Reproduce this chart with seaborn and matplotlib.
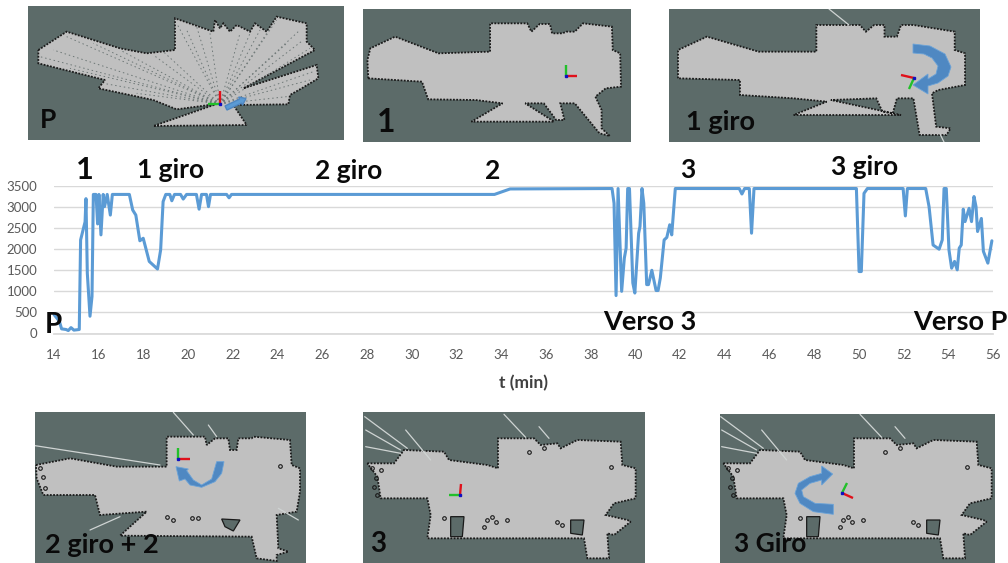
import matplotlib
matplotlib.use('Agg')
import matplotlib.pyplot as plt
from matplotlib.patches import Polygon, Rectangle, FancyArrow
import seaborn as sns

# time series
t_min = [14.0, 14.24, 14.34, 14.54, 14.64, 14.76, 14.89, 15.13, 15.19, 15.39, 15.43, 15.49, 15.61, 15.70,
         15.76, 15.88, 15.95, 16.01, 16.10, 16.20, 16.26, 16.38, 16.52, 16.61, 17.37, 17.52, 17.66, 17.84,
         17.99, 18.26, 18.63, 18.77, 18.88, 19.0, 19.18, 19.27, 19.39, 19.66, 19.78, 19.93, 20.37, 20.49,
         20.6, 20.82, 20.91, 21.0, 21.72, 21.83, 21.94, 33.7, 34.4, 38.96, 39.05, 39.14, 39.23, 39.39,
         39.51, 39.59, 39.66, 39.74, 39.89, 39.98, 40.15, 40.21, 40.30, 40.38, 40.51, 40.59, 40.74, 40.93,
         41.02, 41.12, 41.29, 41.41, 41.54, 41.63, 41.79, 44.65, 44.77, 44.89, 45.10, 45.20, 45.31, 49.89,
         50.01, 50.11, 50.23, 50.38, 51.98, 52.08, 52.17, 52.99, 53.14, 53.32, 53.59, 53.73, 53.81, 53.91,
         54.03, 54.15, 54.28, 54.40, 54.49, 54.58, 54.67, 54.75, 54.93, 55.04, 55.15, 55.24, 55.31, 55.48,
         55.57, 55.77, 55.95]
values = [450, 290, 110, 95, 70, 140, 80, 95, 2220, 2650, 3200, 1430, 410, 880,
          3300, 3300, 2600, 3300, 2340, 3300, 3010, 3300, 2810, 3300, 3300, 2930, 2810, 2200,
          2260, 1710, 1530, 1985, 3130, 3300, 3300, 3150, 3300, 3300, 3190, 3300, 3300, 2950,
          3300, 3300, 3010, 3300, 3300, 3220, 3300, 3300, 3430, 3440, 3090, 900, 3440, 1000,
          1790, 2025, 3440, 3440, 1200, 960, 2380, 2540, 3440, 3090, 1160, 1160, 1500, 1020,
          1020, 1320, 2220, 2280, 2580, 2340, 3440, 3440, 3310, 3440, 3440, 2380, 3440, 3440,
          1470, 1470, 3325, 3440, 3440, 2790, 3440, 3440, 3010, 2100, 2000, 2220, 3440, 3440,
          1985, 1550, 1710, 1510, 2025, 2100, 2950, 2655, 2970, 2655, 3250, 3010, 2420, 2730,
          1950, 1670, 2200]
x_ticks = list(range(14, 57, 2))
y_ticks = list(range(0, 3501, 500))

# text over the chart: label, x, y, size
chart_labels = [('1', 85, 170, 22), ('1 giro', 171, 170, 19), ('2 giro', 349, 171, 19), ('2', 493, 171, 19),
                ('3', 688, 170, 19), ('3 giro', 865, 167, 19), ('P', 53, 325, 20),
                ('Verso 3', 650, 322, 19.5), ('Verso P', 960, 322, 19.5)]

# map panels: frame (left, top, right, bottom) in picture pixels
frame_p = (28, 6, 344, 140)
frame_1 = (363, 9, 631, 142)
frame_1g = (669, 9, 980, 142)
frame_2g = (35, 412, 306, 563)
frame_3 = (363, 412, 645, 563)
frame_3g = (720, 414, 995, 563)

# outlines, measured on zoomed crops
map_p = [(55, 150), (140, 95), (300, 145), (380, 160), (465, 150), (465, 55), (580, 95), (585, 60), (600, 85),
         (610, 70), (630, 95), (650, 75), (690, 95), (705, 70), (740, 95), (770, 50), (860, 70), (860, 125),
         (885, 150), (670, 265), (890, 195), (895, 235), (845, 265), (810, 285), (805, 313), (640, 315),
         (680, 375), (400, 378), (590, 312), (470, 328), (400, 300), (235, 265), (255, 240), (55, 190)]
rays_p = [(60, 170), (100, 150), (140, 110), (150, 205), (220, 130), (250, 250), (300, 150), (350, 280), (400, 165),
          (430, 155), (470, 70), (500, 90), (530, 80), (570, 100), (660, 100), (690, 100), (720, 90), (750, 85),
          (770, 60), (800, 130), (840, 90), (850, 120), (870, 145), (880, 215), (870, 240), (800, 290)]
map_1 = [(20, 235), (18, 180), (25, 145), (85, 110), (190, 160), (315, 155), (315, 70), (405, 70), (415, 95),
         (435, 72), (460, 72), (465, 100), (490, 100), (500, 95), (520, 95), (540, 70), (610, 80), (612, 150),
         (630, 160), (632, 260), (595, 265), (570, 290), (585, 330), (585, 385), (605, 408), (580, 400),
         (520, 310), (485, 310), (495, 360), (475, 360), (445, 310), (400, 310), (470, 365), (270, 365),
         (345, 310), (280, 300), (165, 298), (150, 245)]
map_1g = [(770, 235), (770, 150), (840, 110), (965, 155), (1105, 155), (1105, 75), (1210, 75), (1225, 95),
          (1245, 75), (1270, 75), (1270, 110), (1300, 110), (1310, 75), (1340, 75), (1440, 95), (1440, 150),
          (1465, 160), (1465, 255), (1400, 270), (1385, 280), (1395, 380), (1430, 385), (1420, 405),
          (1355, 405), (1340, 295), (1300, 295), (1290, 340), (1265, 335), (1250, 295), (1140, 300),
          (1310, 345), (1050, 345), (1130, 305), (1050, 295), (920, 285), (920, 240)]
map_2g = [(48, 180), (150, 160), (290, 185), (440, 185), (440, 95), (555, 95), (560, 120), (585, 100), (625, 100),
          (630, 135), (650, 135), (655, 100), (695, 100), (700, 95), (810, 105), (815, 180), (840, 190),
          (840, 260), (830, 320), (770, 330), (775, 430), (805, 440), (770, 450), (770, 468), (710, 460),
          (695, 395), (300, 392), (380, 320), (240, 330), (225, 270), (70, 270), (50, 220)]
holes_2g = [[(605, 342), (660, 345), (640, 378), (615, 365)]]
rays_2g = [((45, 122), (420, 180)), ((460, 22), (520, 90)), ((565, 60), (590, 95)), ((210, 375), (300, 335)),
           ((775, 310), (835, 345))]
map_3g = [(70, 175), (150, 175), (180, 135), (300, 140), (315, 165), (430, 180), (462, 190), (462, 100), (570, 100),
          (590, 120), (640, 115), (650, 130), (700, 105), (830, 110), (835, 180), (875, 190), (875, 280),
          (810, 295), (785, 330), (850, 345), (860, 350), (810, 390), (790, 385), (795, 460), (730, 460),
          (720, 400), (250, 400), (260, 330), (250, 280), (110, 280), (100, 215)]
holes_3g = [[(320, 335), (360, 335), (355, 395), (320, 395)], [(680, 345), (720, 345), (715, 390), (680, 385)]]
rays_3g = [((62, 35), (190, 130)), ((65, 75), (170, 135)), ((65, 125), (170, 145)), ((185, 75), (260, 165)),
           ((480, 28), (545, 97)), ((585, 65), (615, 100))]
specks_3g = [(430, 345), (445, 335), (455, 350), (490, 345), (420, 365), (640, 350), (655, 360), (95, 220),
             (90, 245), (100, 270), (85, 190), (110, 195), (300, 340), (800, 185), (555, 140), (600, 130)]
specks_2g = [(60, 190), (70, 215), (75, 250), (515, 340), (535, 338), (780, 182), (460, 345), (440, 335)]

# robot frames: centre, red tip, green tip
robots = [((220, 104), (220, 91), (208, 104)),
          ((566, 76), (577, 76), (566, 65)),
          ((914, 78), (901, 75), (909, 89)),
          ((178, 459), (190, 459), (178, 448)),
          ((460, 495), (461, 484), (449, 495)),
          ((842, 493), (853, 498), (847, 483))]

# curved arrows
arrow_1g = [(913, 44), (930, 46), (945, 54), (951, 67), (948, 76), (938, 83), (928, 86), (928, 94), (913, 85),
            (928, 74), (928, 79), (936, 74), (938, 66), (932, 58), (924, 54), (913, 53)]
arrow_2g = [(612, 170), (605, 205), (585, 230), (545, 247), (510, 240), (495, 222), (478, 228), (468, 185),
            (505, 192), (500, 197), (520, 225), (545, 240), (575, 222), (590, 170)]
arrow_3g = [(400, 328), (340, 320), (300, 295), (285, 265), (295, 235), (330, 215), (365, 205), (365, 183),
            (398, 207), (365, 240), (365, 225), (330, 235), (305, 255), (310, 275), (345, 295), (400, 298)]

# panel captions
panel_labels = [('P', 48, 120, 19), ('1', 386, 122, 23), ('1 giro', 721, 122, 19.5), ('2 giro + 2', 102, 545, 19.5),
                ('3', 378, 544, 20), ('3 Giro', 770, 544, 19)]

BG = '#5c6b69'
FLOOR = '#c0c0c0'
BLUE = '#5b9bd5'

sns.set_theme(style='white')
plt.rcParams['font.family'] = ['Lato', 'DejaVu Sans']

fig = plt.figure(figsize=(10.08, 5.63), dpi=100)
ax = fig.add_axes([54 / 1008, 1 - 333.5 / 563, (993 - 54) / 1008, 147.5 / 563])
sns.lineplot(x=t_min, y=values, color=BLUE, linewidth=2.2, estimator=None, ax=ax)
ax.set_xlim(14, 56)
ax.set_ylim(0, 3500)
ax.set_xticks(x_ticks)
ax.set_yticks(y_ticks)
ax.grid(axis='y', color='#d9d9d9', linewidth=1)
ax.set_axisbelow(True)
sns.despine(ax=ax, left=True, top=True, right=True)
ax.spines['bottom'].set_color('#d9d9d9')
ax.tick_params(axis='y', length=0, labelsize=9.5, labelcolor='#595959', pad=12)
ax.tick_params(axis='x', length=0, labelsize=9.5, labelcolor='#595959', pad=11)
ax.set_xlabel('t (min)', fontsize=12.5, fontweight='bold', color='#404040', labelpad=10)
for c in ax.lines:
    c.set_clip_on(False)

# overlay in picture pixels for the map panels and captions
ov = fig.add_axes([0, 0, 1, 1], facecolor='none')
ov.set_xlim(0, 1008)
ov.set_ylim(563, 0)
ov.axis('off')


def place(pts, x0, sx, y0, sy):
    return [(x0 + sx * x, y0 + sy * y) for x, y in pts]


def draw_panel(frame, outline, rays=(), holes=(), specks=()):
    left, top, right, bottom = frame
    box = Rectangle((left, top), right - left, bottom - top, facecolor=BG, edgecolor='none', zorder=2)
    ov.add_patch(box)
    floor = Polygon(outline, facecolor=FLOOR, edgecolor='#1a1a1a', linewidth=1.3,
                    linestyle=(0, (1, 0.8)), zorder=3)
    ov.add_patch(floor)
    floor.set_clip_path(box)
    for h in holes:
        ov.add_patch(Polygon(h, facecolor=BG, edgecolor='#1a1a1a', linewidth=0.9, zorder=4))
    for a, b in rays:
        ray, = ov.plot([a[0], b[0]], [a[1], b[1]], color='#cfd4d3', linewidth=0.9, zorder=4)
        ray.set_clip_path(box)
    for x, y in specks:
        ov.plot([x], [y], marker='o', markersize=2.6, markerfacecolor='none', markeredgecolor='#1a1a1a',
                markeredgewidth=0.8, zorder=4)


sx1 = 0.413
sy1 = 1 / 3
draw_panel(frame_p, place(map_p, 20, 1 / 3, 0, 1 / 3))
origin_p = (20 + 600 / 3, 312 / 3)
for x, y in place(rays_p, 20, 1 / 3, 0, 1 / 3):
    ov.plot([origin_p[0], x], [origin_p[1], y], color='#6d7776', linewidth=0.7,
            linestyle=(0, (1.5, 3)), zorder=4)
draw_panel(frame_1, place(map_1, 360, sx1, 0, sy1))
draw_panel(frame_1g, place(map_1g, 360, sx1, 0, sy1),
           rays=[((829, 9), (849, 25)), ((940, 134), (944, 142))])
draw_panel(frame_2g, place(map_2g, 20, 1 / 3, 405, 1 / 3),
           rays=[(place([a], 20, 1 / 3, 405, 1 / 3)[0], place([b], 20, 1 / 3, 405, 1 / 3)[0]) for a, b in rays_2g],
           holes=[place(h, 20, 1 / 3, 405, 1 / 3) for h in holes_2g],
           specks=place(specks_2g, 20, 1 / 3, 405, 1 / 3))
for frame, x0 in [(frame_3, 344), (frame_3g, 700)]:
    draw_panel(frame, place(map_3g, x0, 1 / 3, 405, 1 / 3),
               rays=[(place([a], x0, 1 / 3, 405, 1 / 3)[0], place([b], x0, 1 / 3, 405, 1 / 3)[0]) for a, b in rays_3g],
               holes=[place(h, x0, 1 / 3, 405, 1 / 3) for h in holes_3g],
               specks=place(specks_3g, x0, 1 / 3, 405, 1 / 3))

for c, r, g in robots:
    ov.plot([c[0], r[0]], [c[1], r[1]], color='#e0101a', linewidth=1.7, zorder=6, solid_capstyle='butt')
    ov.plot([c[0], g[0]], [c[1], g[1]], color='#22c02a', linewidth=1.7, zorder=6, solid_capstyle='butt')
    ov.plot([c[0]], [c[1]], marker='s', markersize=1.6, color='#1010c0', zorder=7)

ov.add_patch(FancyArrow(226, 108, 20, -9.5, width=4.5, head_width=9, head_length=6,
                        length_includes_head=True, facecolor=BLUE, edgecolor='#4f86c0', zorder=6))
ov.add_patch(Polygon(arrow_1g, facecolor='#4f88c2', edgecolor='#6ba3d8', linewidth=0.6, zorder=6))
ov.add_patch(Polygon(place(arrow_2g, 20, 1 / 3, 405, 1 / 3), facecolor='#4f88c2', edgecolor='#6ba3d8',
                     linewidth=0.6, zorder=6))
ov.add_patch(Polygon(place(arrow_3g, 700, 1 / 3, 405, 1 / 3), facecolor='#4f88c2', edgecolor='#6ba3d8',
                     linewidth=0.6, zorder=6))

for label, x, y, size in chart_labels + panel_labels:
    ov.text(x, y, label, ha='center', va='center', fontsize=size, fontweight='bold', color='#0a0a0a', zorder=8)

fig.savefig('out.png', dpi=100)
